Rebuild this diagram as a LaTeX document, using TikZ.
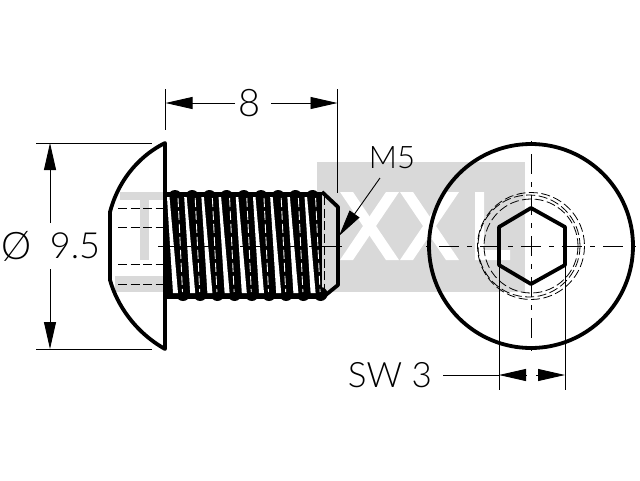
\documentclass[tikz,border=0pt]{standalone}
\usepackage{fontspec}
\usepackage{tikz}
\usetikzlibrary{arrows.meta,calc}
\newfontfamily\dimfont{Lato Light}
\definecolor{markgray}{RGB}{217,217,217}
\tikzset{
  % Line weights of the drawing
  outline/.style={draw=black,line width=3.8,line join=round},
  thin line/.style={draw=black,line width=0.9},
  hidden line/.style={draw=black,line width=0.8,dash pattern=on 9 off 3.5},
  center line/.style={draw=black,line width=0.9,dash pattern=on 20 off 8 on 5 off 8,dash phase=24},
  dim arrow/.style={thin line,-{Triangle[length=27,width=12]}},
  dim label/.style={font=\dimfont\fontsize{36}{36}\selectfont,inner sep=0}
}
\begin{document}
\begin{tikzpicture}[x=1pt,y=-1pt]
  \useasboundingbox (0,0) rectangle (640,480);
  % Watermark
  \fill[markgray] (317,162) rectangle (525,292);
  \fill[markgray] (120,192) rectangle (165,200);
  \fill[markgray] (140,200) rectangle (149,260);
  \fill[markgray] (115,276) rectangle (170,292);
  \foreach \xa in {340,400}{
    \fill[white] (\xa,192) -- ++(13,0) -- ++(46,68) -- ++(-13,0) -- cycle;
    \fill[white] (\xa+46,192) -- ++(13,0) -- ++(-46,68) -- ++(-13,0) -- cycle;
  }
  \fill[white] (475,192) -- ++(9,0) -- ++(0,58) -- ++(26,0) -- ++(0,10) -- ++(-35,0) -- cycle;
  % Head
  \draw[outline] (165,143) .. controls (135,158) and (117,185) .. (110,212)
    -- (110,280) .. controls (117,305) and (135,332) .. (165,349) -- cycle;
  \foreach \yy in {208,227,264,284}{
    \draw[hidden line] (118,\yy) -- (165,\yy);
  }
  % Thread
  \fill[black] (166,192) rectangle (322,299);
  \foreach \xx in {0,...,8}{
    \fill[black] (175+17.2*\xx,197) circle (7);
    \fill[black] (183+17.2*\xx,294) circle (7);
    \fill[white] (167+17.2*\xx,197) -- (169.5+17.2*\xx,197) -- (178+17.2*\xx,293) -- (173+17.2*\xx,293) -- cycle;
    \draw[white,line width=0.9,dash pattern=on 9 off 4] (178+17.2*\xx,198) -- (182.5+17.2*\xx,292);
  }
  \draw[outline] (322,298) -- (338,285) -- (338,207) -- (322,192);
  \draw[hidden line] (324,196) -- (324,294);
  \draw[center line,dash phase=0] (158,246) -- (345,246);
  % Socket view
  \draw[outline] (531,246) circle (102);
  \draw[hidden line] (531,246) circle (53.5);
  \draw[hidden line] (531,246) circle (47);
  \draw[hidden line] (529,246) circle (51);
  \draw[outline] (531,208) -- (565,227) -- (565,265) -- (531,284) -- (499,265) -- (499,227) -- cycle;
  \draw[center line] (422,246) -- (640,246);
  \draw[center line] (531,137) -- (531,356);
  % Dimension 8
  \node (len) [dim label,font=\dimfont\fontsize{38}{38}\selectfont] at (250,103) {8};
  \coordinate (lenL) at (165.5,103);
  \coordinate (lenR) at (337.5,103);
  \draw[thin line] (165.5,89) -- (165.5,130);
  \draw[thin line] (337.5,89) -- (337.5,193);
  \draw[dim arrow] (len) ++(-15,0) -- (lenL);
  \draw[dim arrow] (len) ++(21,0) -- (lenR);
  % Dimension 9.5
  \node (diasym) [dim label,font=\dimfont\fontsize{38}{38}\selectfont] at (17,246) {\O};
  \node (dia) [dim label] at (75,246) {9.5};
  \coordinate (diaT) at (50,143);
  \coordinate (diaB) at (50,349);
  \draw[thin line] (36,143) -- (152,143);
  \draw[thin line] (36,349) -- (152,349);
  \draw[dim arrow] (50,223) -- (diaT);
  \draw[dim arrow] (50,269) -- (diaB);
  % Thread callout
  \node (thread) [dim label,font=\dimfont\fontsize{31}{31}\selectfont] at (392,158) {M5};
  \coordinate (threadTip) at (339,236);
  \draw[dim arrow] (380,178) -- (threadTip);
  % Across flats
  \node (flats) [dim label,font=\dimfont\fontsize{35}{35}\selectfont] at (390,375) {SW 3};
  \coordinate (flatL) at (499,375);
  \coordinate (flatR) at (565,375);
  \coordinate (flatM) at (531,375);
  \draw[thin line] (499,267) -- (499,390);
  \draw[thin line] (565,267) -- (565,390);
  \draw[thin line] (443,375) -- (flatL);
  \draw[dim arrow] ($(flatM)+(-5,0)$) -- (flatL);
  \draw[dim arrow] ($(flatM)+(5,0)$) -- (flatR);
\end{tikzpicture}
\end{document}
